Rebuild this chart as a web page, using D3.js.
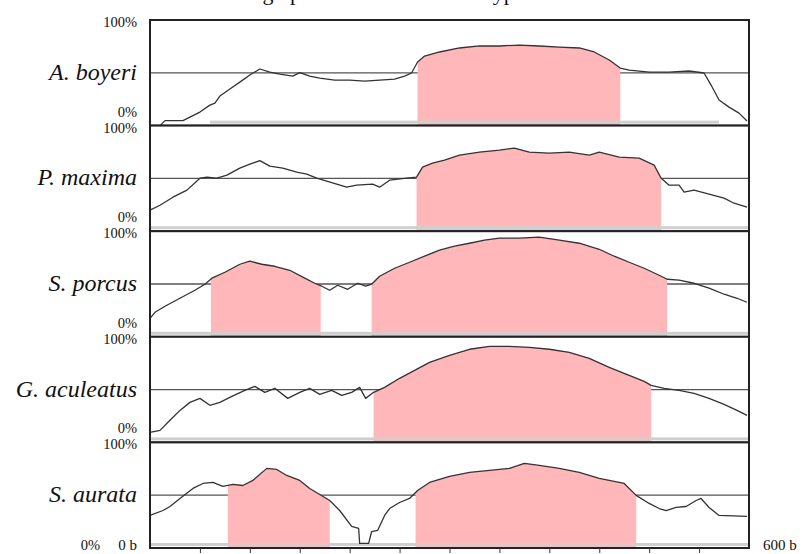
<!DOCTYPE html>
<html>
<head>
<meta charset="utf-8">
<script src="https://cdn.jsdelivr.net/npm/d3@7"></script>
<style>
  html, body { margin: 0; padding: 0; background: #fff; }
  svg { display: block; }
  text { font-family: "Liberation Serif", "DejaVu Serif", serif; fill: #111; }
</style>
</head>
<body>
<svg id="chart" width="810" height="554"></svg>
<script>
// Species shown, top to bottom
const species = ["A. boyeri", "P. maxima", "S. porcus", "G. aculeatus", "S. aurata"];

// Identity profiles: [position (b), identity (%)]
const boyeri = [[0,0],[10,0],[15,4.7],[33,4.7],[40,8],[50,12.8],[60,19.4],[65,21.3],[70,28],[80,34.6],[90,41.2],[100,47.9],[110,53.6],[120,50.7],[130,48.8],[143,46.9],[150,50.2],[160,46.9],[170,45],[185,43.1],[200,43.1],[215,42.2],[230,43.1],[245,44],[255,46.9],[262,49.8],[268,60.2],[275,65.9],[290,69.7],[310,73.5],[330,75.4],[350,75.4],[370,76.3],[390,75.4],[410,74.4],[430,73.5],[445,69.7],[460,62.1],[471,54.5],[480,52.6],[500,50.7],[520,50.7],[540,51.7],[555,49.8],[562,38.4],[570,24.2],[580,17.5],[590,11.8],[598,4.3]];
const maxima = [[0,19.9],[10,24.6],[23,32.2],[37,38.9],[50,50.2],[57,51.2],[67,50.2],[77,53.1],[90,59.7],[100,63.5],[110,66.8],[120,61.6],[133,59.7],[147,55.9],[157,54],[167,50.2],[177,47.4],[197,41.7],[207,43.6],[223,44.5],[230,41.7],[240,48.3],[257,50.2],[267,51.2],[273,60.7],[283,64.5],[295,67.3],[310,72],[330,74.9],[350,76.8],[365,78.7],[380,74.9],[400,73.9],[420,74.9],[440,72],[450,74.9],[470,70.1],[490,69.2],[505,62.6],[512,50.2],[520,43.6],[530,43.6],[535,37],[545,38.9],[560,35.1],[575,31.3],[585,26.5],[598,22.7]];
const porcus = [[0,17.5],[5,23.2],[15,28.9],[30,36.5],[45,44.1],[55,49.8],[62,55.5],[75,61.1],[90,68.7],[100,71.6],[112,68.7],[125,66.8],[140,63],[155,55.5],[165,50.7],[172,47.9],[180,44.1],[188,48.8],[198,45],[208,50.7],[216,47.9],[222,49.8],[230,57.3],[245,64.9],[260,70.6],[275,76.3],[290,82],[305,85.8],[320,88.6],[335,91.5],[350,93.4],[370,93.4],[390,94.3],[410,91.5],[430,88.6],[450,82.9],[465,76.3],[480,70.6],[495,64.9],[510,58.3],[518,54.5],[530,53.6],[545,50.7],[560,46],[575,40.3],[588,36.5],[598,32.7]];
const aculeatus = [[0,9.5],[10,11.4],[20,20.9],[30,30.3],[40,37.9],[50,41.7],[60,35.1],[70,37.9],[82,43.6],[95,49.3],[105,53.1],[115,47.4],[125,51.2],[138,41.7],[150,47.4],[160,51.2],[170,45.5],[182,49.3],[192,44.5],[202,47.4],[210,52.1],[216,41.7],[224,47.4],[235,52.1],[250,60.7],[265,68.2],[280,75.8],[300,82.5],[320,88.2],[340,91],[360,91],[380,90],[400,88.2],[420,85.3],[440,79.6],[460,71.1],[480,63.5],[495,57.8],[502,54],[515,51.2],[530,49.3],[545,46.4],[560,41.7],[575,36],[588,30.3],[598,25.6]];
const aurata = [[0,30.8],[13,35.5],[20,39.3],[30,46.9],[43,56.4],[53,61.1],[63,62.1],[73,58.3],[83,60.2],[93,59.2],[103,64],[117,75.4],[127,74.4],[137,68.7],[150,64],[160,56.4],[170,50.7],[180,45],[190,35.5],[202,20.4],[209,18.5],[210,4.3],[219,4.3],[222,15.6],[228,16.6],[235,30.8],[240,37.4],[250,43.1],[260,46.9],[268,54.5],[280,62.1],[300,67.8],[320,71.6],[340,73.5],[360,75.4],[375,80.1],[390,78.2],[410,75.4],[430,71.6],[450,65.9],[460,64],[475,61.1],[487,49.8],[500,42.2],[510,37.4],[517,35.5],[527,38.4],[537,39.3],[547,45],[552,46.9],[560,38.4],[570,30.8],[598,29.9]];
const profiles = [boyeri, maxima, porcus, aculeatus, aurata];

// Conserved segments (shaded), in b
const conserved = [
  [[268, 471]],
  [[267, 512]],
  [[61, 171], [222, 518]],
  [[224, 502]],
  [[78, 180], [266, 487]]
];

// Aligned coverage shown as the grey bar along each panel floor
const coverage = [[60, 570], [0, 600], [0, 600], [0, 600], [0, 600]];

// Axis
const xDomain = [0, 600];
const xTicks = [50, 100, 150, 200, 250, 300, 350, 400, 450, 500, 550];
const yDomain = [0, 100];
const yTopLabel = "100%";
const yBottomLabel = "0%";
const xStartLabel = "0 b";
const xEndLabel = "600 b";
const titleText = "Sliding upstream scan for each type";

(function draw() {
  const svg = d3.select("#chart");
  const frameLeft = 150, frameRight = 749, frameTop = 20, frameBottom = 548;
  const panelH = (frameBottom - frameTop) / species.length;

  const x = d3.scaleLinear().domain(xDomain).range([frameLeft, frameRight]);

  // Title (sits above the frame, mostly beyond the top edge)
  svg.append("text")
    .attr("x", 210).attr("y", 0)
    .attr("font-size", 22)
    .text(titleText);

  const defs = svg.append("defs");

  species.forEach((name, i) => {
    const y0 = frameTop + i * panelH;
    const y1 = y0 + panelH;
    const y = d3.scaleLinear().domain(yDomain).range([y1, y0]);
    const g = svg.append("g");

    g.append("rect")
      .attr("x", frameLeft).attr("y", y0)
      .attr("width", frameRight - frameLeft).attr("height", panelH)
      .attr("fill", "#fff");

    // 50% reference line
    g.append("line")
      .attr("x1", frameLeft).attr("x2", frameRight)
      .attr("y1", y(50)).attr("y2", y(50))
      .attr("stroke", "#555").attr("stroke-width", 1.3);

    const area = d3.area()
      .x(d => x(d[0]))
      .y0(y(0))
      .y1(d => y(d[1]));

    conserved[i].forEach((seg, j) => {
      const id = `clip-${i}-${j}`;
      defs.append("clipPath").attr("id", id)
        .append("rect")
        .attr("x", x(seg[0])).attr("y", y0)
        .attr("width", x(seg[1]) - x(seg[0])).attr("height", panelH);
      g.append("path")
        .datum(profiles[i])
        .attr("clip-path", `url(#${id})`)
        .attr("d", area)
        .attr("fill", "#ffb7b9");
    });

    // coverage bar
    g.append("rect")
      .attr("x", x(coverage[i][0])).attr("y", y1 - 5)
      .attr("width", x(coverage[i][1]) - x(coverage[i][0])).attr("height", 3)
      .attr("fill", "#cfcfcf");

    const line = d3.line()
      .x(d => x(d[0]))
      .y(d => y(d[1]));
    g.append("path")
      .datum(profiles[i])
      .attr("d", line)
      .attr("fill", "none")
      .attr("stroke", "#333")
      .attr("stroke-width", 1.3)
      .attr("stroke-linejoin", "round");

    g.append("rect")
      .attr("x", frameLeft).attr("y", y0)
      .attr("width", frameRight - frameLeft).attr("height", panelH)
      .attr("fill", "none")
      .attr("stroke", "#222").attr("stroke-width", 2);

    // labels
    svg.append("text")
      .attr("x", 137).attr("y", y0 + 7)
      .attr("text-anchor", "end").attr("font-size", 14.5)
      .text(yTopLabel);

    svg.append("text")
      .attr("x", 137).attr("y", y(50) + 7)
      .attr("text-anchor", "end").attr("font-size", 24)
      .attr("font-style", "italic")
      .text(name);

    const last = i === species.length - 1;
    svg.append("text")
      .attr("x", last ? 100 : 137).attr("y", last ? 550 : y1 - 9)
      .attr("text-anchor", "end").attr("font-size", 14.5)
      .text(yBottomLabel);
  });

  // position ticks along the bottom edge
  const axis = d3.axisBottom(x).tickValues(xTicks).tickSize(5).tickFormat("");
  const axG = svg.append("g").attr("transform", `translate(0,${frameBottom})`).call(axis);
  axG.select(".domain").remove();
  axG.selectAll(".tick line").attr("stroke", "#333").attr("stroke-width", 1);

  svg.append("text")
    .attr("x", 137).attr("y", 550)
    .attr("text-anchor", "end").attr("font-size", 15)
    .text(xStartLabel);

  svg.append("text")
    .attr("x", 763).attr("y", 550)
    .attr("font-size", 15)
    .text(xEndLabel);
})();
</script>
</body>
</html>
